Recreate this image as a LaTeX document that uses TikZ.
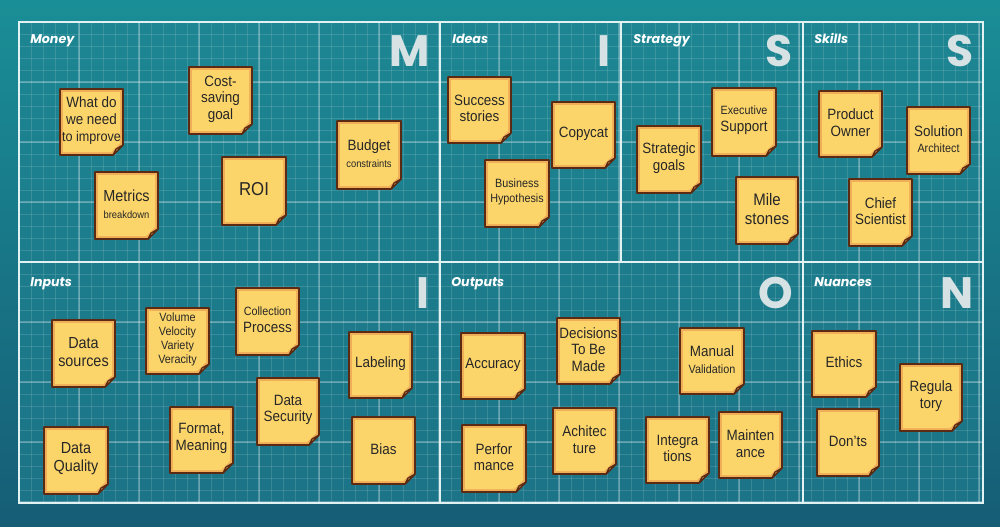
\documentclass[tikz,border=0pt]{standalone}
\usepackage{fontspec}
\setmainfont{Liberation Sans}[FakeStretch=0.9]
\newfontfamily\labfont{Poppins}
\definecolor{bgtop}{HTML}{1A8E96}
\definecolor{bgbot}{HTML}{165D76}
\definecolor{gridin}{HTML}{1F8291}
\definecolor{framec}{HTML}{E2F1F2}
\definecolor{noteY}{HTML}{FCD56A}
\definecolor{noteO}{HTML}{F1AE58}
\definecolor{noteB}{HTML}{5A2A12}
\definecolor{foldc}{HTML}{F0AE62}
\definecolor{bigc}{HTML}{D6E2E3}
\newcommand{\smtext}{\fontsize{7.8}{9.5}\selectfont}
\newcommand{\mdtext}{\fontsize{9}{11}\selectfont}
\newcommand{\nmtext}{\fontsize{11.2}{12.5}\selectfont}
\newcommand{\bgtext}{\fontsize{12}{13.5}\selectfont}
\newcommand{\lgtext}{\fontsize{14}{15}\selectfont}
\newcommand{\stickynote}[1][\nmtext]{\def\snfont{#1}\stickynotedraw}
\newcommand{\stickynotedraw}[6]{%
  \fill[noteO] (#2,#3) -- (#4,#3) -- (#4,#5-10) -- (#4-10,#5) -- (#2,#5) -- cycle;
  \fill[noteY] (#2+3,#3+3) -- (#4-3,#3+3) -- (#4-3,#5-12) -- (#4-12,#5-3) -- (#2+3,#5-3) -- cycle;
  \draw[noteB,line width=1.2pt,line join=round] (#2,#3) -- (#4,#3) -- (#4,#5-10) -- (#4-10,#5) -- (#2,#5) -- cycle;
  \draw[noteB,fill=foldc,line width=0.9pt,line join=round] (#4,#5-10) -- (#4-7,#5-6) -- (#4-10,#5) -- cycle;
  \node[notetext,font=\snfont] (#1) at ({(#2+#4)/2},{(#3+#5)/2-1.5}) {#6};
}
\tikzset{
  notetext/.style={align=center,inner sep=0pt,text=black!85},
  cellhead/.style={anchor=base west,inner sep=0pt,text=white,font=\labfont\bfseries\itshape\fontsize{9.5}{11}\selectfont},
  bigletter/.style={anchor=base east,inner sep=0pt,text=bigc,font=\labfont\bfseries\fontsize{33}{36}\selectfont},
  frameline/.style={draw=framec,line width=1.1pt},
}
\begin{document}
\begin{tikzpicture}[x=0.75pt,y=-0.75pt]
\useasboundingbox (0,0) rectangle (1000,526);
\shade[top color=bgtop,bottom color=bgbot] (0,0) rectangle (1000,526);
% grid area
\fill[gridin,opacity=0.6] (19,22) rectangle (983,503);
\begin{scope}
\clip (19,22) rectangle (983,503);
\foreach \x in {19,31,...,990} \draw[white,opacity=0.13,line width=0.5pt] (\x,22) -- (\x,503);
\foreach \y in {22,34,...,510} \draw[white,opacity=0.13,line width=0.5pt] (19,\y) -- (983,\y);
\foreach \x in {79,139,...,990} \draw[white,opacity=0.25,line width=1pt] (\x,22) -- (\x,503);
\foreach \y in {82,142,...,510} \draw[white,opacity=0.25,line width=1pt] (19,\y) -- (983,\y);
\end{scope}
% frame
\coordinate (tl) at (19,22);
\coordinate (br) at (983,503);
\draw[frameline] (tl) rectangle (br);
\coordinate (hl) at (19,262);
\coordinate (hr) at (983,262);
\draw[frameline] (hl) -- (hr);
\coordinate (v1t) at (440,22);
\coordinate (v1b) at (440,503);
\draw[frameline] (v1t) -- (v1b);
\coordinate (v2t) at (621,22);
\coordinate (v2b) at (621,262);
\draw[frameline] (v2t) -- (v2b);
\coordinate (v3t) at (803,22);
\coordinate (v3b) at (803,503);
\draw[frameline] (v3t) -- (v3b);
% headings
\node[cellhead] (hMoney) at (30,43) {Money};
\node[cellhead] (hIdeas) at (452,43) {Ideas};
\node[cellhead] (hStrategy) at (633,43) {Strategy};
\node[cellhead] (hSkills) at (814,43) {Skills};
\node[cellhead] (hInputs) at (30,286) {Inputs};
\node[cellhead] (hOutputs) at (451,286) {Outputs};
\node[cellhead] (hNuances) at (814,286) {Nuances};
% big letters
\node[bigletter] (lM) at (430,66) {M};
\node[bigletter] (lI) at (611,66) {I};
\node[bigletter] (lS1) at (793,66) {S};
\node[bigletter] (lS2) at (974,66) {S};
\node[bigletter] (lI2) at (430,308) {I};
\node[bigletter] (lO) at (793,308) {O};
\node[bigletter] (lN) at (974,308) {N};
% Money
\stickynote{n1}{60}{89}{123}{155}{What do\\we need\\{\fontsize{10.5}{12.5}\selectfont to improve}}
\stickynote{n2}{189}{67}{252}{134}{Cost-\\saving\\goal}
\stickynote{n3}{337}{121}{401}{189}{Budget\\{\smtext constraints}}
\stickynote{n4}{95}{172}{158}{239}{{\bgtext Metrics}\\{\smtext breakdown}}
\stickynote[\lgtext]{n5}{222}{157}{286}{225}{ROI}
% Ideas
\stickynote{n6}{448}{77}{511}{143}{Success\\stories}
\stickynote{n7}{552}{102}{615}{168}{Copycat}
\stickynote[\fontsize{9}{11.5}\selectfont]{n8}{485}{160}{549}{227}{Business\\Hypothesis}
% Strategy
\stickynote{n9}{637}{126}{701}{193}{Strategic\\goals}
\stickynote{n10}{712}{88}{776}{156}{{\mdtext Executive}\\Support}
\stickynote[\fontsize{12.5}{14.5}\selectfont]{n11}{736}{177}{798}{244}{Mile\\stones}
% Skills
\stickynote{n12}{819}{91}{882}{157}{Product\\Owner}
\stickynote{n13}{907}{107}{970}{174}{Solution\\{\mdtext Architect}}
\stickynote{n14}{849}{179}{912}{246}{Chief\\Scientist}
% Inputs
\stickynote[\bgtext]{n15}{52}{320}{115}{387}{Data\\sources}
\stickynote[\fontsize{9}{10.6}\selectfont]{n16}{146}{308}{209}{374}{Volume\\Velocity\\Variety\\Veracity}
\stickynote{n17}{236}{288}{299}{355}{{\mdtext Collection}\\Process}
\stickynote{n18}{349}{332}{412}{398}{Labeling}
\stickynote{n19}{257}{378}{319}{445}{Data\\Security}
\stickynote{n20}{170}{407}{233}{473}{Format,\\Meaning}
\stickynote[\bgtext]{n21}{44}{427}{108}{494}{Data\\Quality}
\stickynote{n22}{352}{417}{415}{484}{Bias}
% Outputs
\stickynote{n23}{461}{333}{525}{399}{Accuracy}
\stickynote{n24}{557}{318}{620}{384}{Decisions\\To Be\\Made}
\stickynote{n25}{680}{328}{744}{394}{Manual\\{\mdtext Validation}}
\stickynote{n26}{462}{425}{526}{492}{Perfor\\mance}
\stickynote{n27}{553}{408}{616}{474}{Achitec\\ture}
\stickynote{n28}{646}{417}{709}{483}{Integra\\tions}
\stickynote{n29}{719}{412}{782}{478}{Mainten\\ance}
% Nuances
\stickynote{n30}{812}{331}{876}{397}{Ethics}
\stickynote{n31}{817}{409}{879}{476}{Don'ts}
\stickynote{n32}{900}{364}{962}{431}{Regula\\tory}
\end{tikzpicture}
\end{document}
